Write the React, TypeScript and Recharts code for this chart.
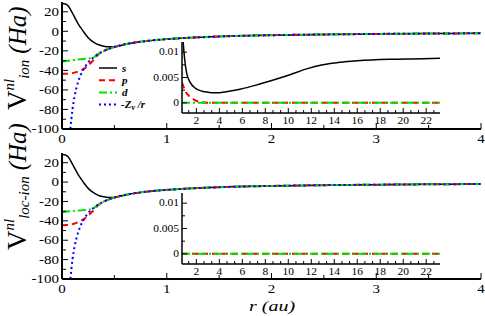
import { LineChart, Line, XAxis, YAxis, CartesianGrid } from 'recharts';

const SERIF = "'Liberation Serif', 'Times New Roman', serif";

// main panels, r in au
const R_MAIN = [0, 0.02, 0.04, 0.06, 0.08, 0.1, 0.12, 0.15, 0.18, 0.2, 0.22, 0.25, 0.3, 0.35, 0.4, 0.45, 0.5, 0.6, 0.7, 0.8, 1.0, 1.2, 1.5, 2.0, 2.5, 3.0, 3.5, 4.0];
const ZV_R = [null, null, null, null, -100, -80, -66.7, -53.3, -44.4, -40, -36.4, -32, -26.7, -22.9, -20, -17.8, -16, -13.3, -11.4, -10, -8, -6.7, -5.3, -4, -3.2, -2.7, -2.3, -2];
const S_ION = [28.5, 28.3, 27.6, 25.8, 22.5, 18.5, 14.5, 8.5, 3.5, 0.5, -2.5, -6.5, -11, -13.8, -15.2, -15.8, -15.9, -13.3, -11.4, -10, -8, -6.7, -5.3, -4, -3.2, -2.7, -2.3, -2];
const P_ION = [-43.5, -43.5, -43.5, -43.4, -43.2, -42.8, -42.3, -41.3, -40, -39, -37.7, -35, -29.5, -23.5, -20, -17.8, -16, -13.3, -11.4, -10, -8, -6.7, -5.3, -4, -3.2, -2.7, -2.3, -2];
const D_ION = [-31, -30.8, -30.5, -30.2, -29.9, -29.6, -29.3, -28.9, -28.6, -28.4, -28.2, -27.8, -26.8, -22.9, -20, -17.8, -16, -13.3, -11.4, -10, -8, -6.7, -5.3, -4, -3.2, -2.7, -2.3, -2];
const S_LOC = [28.5, 28.3, 27.6, 25.8, 22.5, 18.5, 14.5, 8.5, 3.5, 0.5, -2.5, -6.5, -11, -13.8, -15.2, -15.8, -15.9, -13.3, -11.4, -10, -8, -6.7, -5.3, -4, -3.2, -2.7, -2.3, -2];
const P_LOC = [-44.5, -44.5, -44.4, -44.2, -43.9, -43.4, -42.8, -41.5, -40, -38.8, -37.3, -34.5, -29.3, -23.5, -20, -17.8, -16, -13.3, -11.4, -10, -8, -6.7, -5.3, -4, -3.2, -2.7, -2.3, -2];
const D_LOC = [-31, -30.8, -30.5, -30.2, -30, -29.8, -29.6, -29.4, -29.2, -29, -28.8, -28.4, -27, -22.9, -20, -17.8, -16, -13.3, -11.4, -10, -8, -6.7, -5.3, -4, -3.2, -2.7, -2.3, -2];

// insets (zoom on the tail)
const R_INSET = [0.75, 0.86, 1.0, 1.15, 1.45, 1.9, 2.5, 3.0, 3.5, 4.0, 4.6, 5.8, 7.2, 8.7, 10.2, 11.6, 13.0, 14.5, 16.0, 18.8, 21.7, 23.2];
const S_INSET = [0.015, 0.0117, 0.0082, 0.0059, 0.0041, 0.0029, 0.0023, 0.0021, 0.002, 0.002, 0.0022, 0.0027, 0.0035, 0.0045, 0.0056, 0.0067, 0.0075, 0.008, 0.0083, 0.0086, 0.0087, 0.0088];
const P_INSET = [0.004, 0.0033, 0.0025, 0.0019, 0.0012, 0.0005, 0.0001, 0, 0, 0, 0, 0, 0, 0, 0, 0, 0, 0, 0, 0, 0, 0];
const D_INSET = [0, 0, 0, 0, 0, 0, 0, 0, 0, 0, 0, 0, 0, 0, 0, 0, 0, 0, 0, 0, 0, 0];
const R_LOC_INSET = [0.75, 23.2];
const P_LOC_INSET = [0, 0];
const D_LOC_INSET = [0, 0];

const MAIN_X_TICKS = [0, 0.5, 1, 1.5, 2, 2.5, 3, 3.5, 4];
const MAIN_Y_TICKS = [-100, -90, -80, -70, -60, -50, -40, -30, -20, -10, 0, 10, 20];
const INSET_X_LABELS = [2, 4, 6, 8, 10, 12, 14, 16, 18, 20, 22];
const INSET_Y_TICKS = [0, 0.0025, 0.005, 0.0075, 0.01];
const INSET_Y_LABELS = [0, 0.005, 0.01];

const INSET_X_TICKS = INSET_X_LABELS.flatMap((v) => [v - 2 / 3, v, v + 2 / 3]);

const mainRows = (s: number[], p: number[], d: number[]) =>
  R_MAIN.map((r, i) => ({ r, s: s[i], p: p[i], d: d[i], z: ZV_R[i] }));
const ionRows = mainRows(S_ION, P_ION, D_ION);
const locRows = mainRows(S_LOC, P_LOC, D_LOC);
const ionInsetRows = R_INSET.map((r, i) => ({ r, s: S_INSET[i], p: P_INSET[i], d: D_INSET[i] }));
const locInsetRows = R_LOC_INSET.map((r, i) => ({ r, p: P_LOC_INSET[i], d: D_LOC_INSET[i] }));

const STYLE = {
  s: { stroke: '#000', strokeWidth: 1.5 },
  p: { stroke: '#ff0000', strokeWidth: 2, strokeDasharray: '6 4' },
  d: { stroke: '#00e000', strokeWidth: 2, strokeDasharray: '8 3 2 3' },
  z: { stroke: '#0000ff', strokeWidth: 2, strokeDasharray: '2 3' },
};

type Side = 'bottom' | 'top' | 'left' | 'right';
type TickOpts = {
  major: (v: number) => boolean;
  label?: (v: number) => string | null;
  big: number;
  small: number;
  fontSize: number;
};

// xmgrace style: ticks point inward, labels outside
function tickFn(side: Side, o: TickOpts) {
  return (props: any) => {
    const { x, y, payload } = props;
    const v = payload.value as number;
    const len = o.major(v) ? o.big : o.small;
    let x2 = x, y2 = y;
    if (side === 'bottom') y2 = y - len;
    if (side === 'top') y2 = y + len;
    if (side === 'left') x2 = x + len;
    if (side === 'right') x2 = x - len;
    const text = o.label ? o.label(v) : null;
    let tx = x, ty = y, anchor: 'middle' | 'end' = 'middle';
    if (side === 'bottom') ty = y + o.fontSize * 0.92;
    if (side === 'left') {
      tx = x - 3;
      ty = y + o.fontSize * 0.28;
      anchor = 'end';
    }
    return (
      <g>
        <line x1={x} y1={y} x2={x2} y2={y2} stroke="#000" strokeWidth={1} />
        {text !== null && (
          <text transform={`translate(${tx},${ty}) scale(1,0.82)`} textAnchor={anchor} fontFamily={SERIF} fontSize={o.fontSize} fill="#000">
            {text}
          </text>
        )}
      </g>
    );
  };
}

const mainX: TickOpts = { major: (v) => Number.isInteger(v), big: 6, small: 4, fontSize: 15 };
const mainY: TickOpts = { major: (v) => v % 20 === 0, big: 6, small: 4, fontSize: 15 };
const insetX: TickOpts = { major: (v) => INSET_X_LABELS.includes(v), big: 5, small: 3, fontSize: 11.5 };
const insetY: TickOpts = { major: (v) => INSET_Y_LABELS.includes(v), big: 5, small: 3, fontSize: 11.5 };
const withLabels = (o: TickOpts): TickOpts => ({ ...o, label: (v) => (o.major(v) ? String(v) : null) });

const frame = { stroke: '#000', strokeWidth: 2 };
const insetFrame = { stroke: '#000', strokeWidth: 1.5 };

function MainPanel({ rows, height, xHeight }: { rows: any[]; height: number; xHeight: number }) {
  return (
    <LineChart width={485} height={height} data={rows} margin={{ top: 2, right: 4, bottom: 0, left: 0 }}>
      <XAxis dataKey="r" type="number" domain={[0, 4]} ticks={MAIN_X_TICKS} interval={0} height={xHeight}
        allowDataOverflow tickSize={0} tickMargin={0} tickLine={false} axisLine={frame} tick={tickFn('bottom', withLabels(mainX))} />
      <XAxis xAxisId="top" orientation="top" dataKey="r" type="number" domain={[0, 4]} ticks={MAIN_X_TICKS} interval={0} height={0}
        tickSize={0} tickMargin={0} tickLine={false} axisLine={frame} tick={tickFn('top', mainX)} />
      <YAxis type="number" domain={[-100, 30]} ticks={MAIN_Y_TICKS} interval={0} width={62} allowDataOverflow
        tickSize={0} tickMargin={0} tickLine={false} axisLine={frame} tick={tickFn('left', withLabels(mainY))} />
      <YAxis yAxisId="right" orientation="right" type="number" domain={[-100, 30]} ticks={MAIN_Y_TICKS} interval={0} width={0}
        tickSize={0} tickMargin={0} tickLine={false} axisLine={frame} tick={tickFn('right', mainY)} />
      <Line type="monotone" dataKey="s" {...STYLE.s} dot={false} isAnimationActive={false} />
      <Line type="monotone" dataKey="p" {...STYLE.p} dot={false} isAnimationActive={false} />
      <Line type="monotone" dataKey="d" {...STYLE.d} dot={false} isAnimationActive={false} />
      <Line type="monotone" dataKey="z" {...STYLE.z} dot={false} isAnimationActive={false} />
    </LineChart>
  );
}

function InsetPanel({ rows, withS }: { rows: any[]; withS: boolean }) {
  return (
    <LineChart width={300} height={90} data={rows} margin={{ top: 4, right: 0, bottom: 0, left: 0 }}>
      <CartesianGrid horizontal={false} vertical={false} fill="#fff" fillOpacity={1} />
      <XAxis dataKey="r" type="number" domain={[0.75, 23.2]} ticks={INSET_X_TICKS} interval={0} height={15}
        allowDataOverflow tickSize={0} tickMargin={0} tickLine={false} axisLine={insetFrame} tick={tickFn('bottom', withLabels(insetX))} />
      <XAxis xAxisId="top" orientation="top" dataKey="r" type="number" domain={[0.75, 23.2]} ticks={INSET_X_TICKS} interval={0} height={0}
        tickSize={0} tickMargin={0} tickLine={false} axisLine={insetFrame} tick={tickFn('top', insetX)} />
      <YAxis type="number" domain={[-0.002, 0.012]} ticks={INSET_Y_TICKS} interval={0} width={42} allowDataOverflow
        tickSize={0} tickMargin={0} tickLine={false} axisLine={insetFrame} tick={tickFn('left', withLabels(insetY))} />
      <YAxis yAxisId="right" orientation="right" type="number" domain={[-0.002, 0.012]} ticks={INSET_Y_TICKS} interval={0} width={0}
        tickSize={0} tickMargin={0} tickLine={false} axisLine={insetFrame} tick={tickFn('right', insetY)} />
      {withS && <Line type="monotone" dataKey="s" {...STYLE.s} dot={false} isAnimationActive={false} />}
      <Line type="monotone" dataKey="p" {...STYLE.p} dot={false} isAnimationActive={false} />
      <Line type="monotone" dataKey="d" {...STYLE.d} dot={false} isAnimationActive={false} />
    </LineChart>
  );
}

function YTitle({ startY, sub }: { startY: number; sub: string }) {
  return (
    <g transform={`translate(26,${startY}) rotate(-90)`}>
      <text x={0} y={0} fontFamily={SERIF} fill="#000">
        <tspan fontSize={27}>V</tspan>
        <tspan fontSize={15} fontStyle="italic" dy={-12}>nl</tspan>
        <tspan fontSize={15} fontStyle="italic" dy={15}>{sub}</tspan>
        <tspan fontSize={25} fontStyle="italic" dy={-3} dx={6}>(Ha)</tspan>
      </text>
    </g>
  );
}

const LEGEND = [
  { key: 's', label: 's', y: 68 },
  { key: 'p', label: 'p', y: 80.2 },
  { key: 'd', label: 'd', y: 92.4 },
] as const;

function Overlay() {
  return (
    <svg width={485} height={316} style={{ position: 'absolute', left: 0, top: 0, pointerEvents: 'none' }}>
      <YTitle startY={110} sub="ion" />
      <YTitle startY={250} sub="loc-ion" />
      {LEGEND.map((l) => (
        <line key={l.key} x1={99} x2={117} y1={l.y} y2={l.y} {...STYLE[l.key]} />
      ))}
      <line x1={99} x2={117} y1={104.6} y2={104.6} {...STYLE.z} />
      <g fontFamily={SERIF} fontSize={11} fontWeight="bold" fontStyle="italic" fill="#000">
        {LEGEND.map((l) => (
          <text key={l.key} x={122} y={l.y + 3.5}>{l.label}</text>
        ))}
        <text x={121} y={108.1}>
          -Z<tspan fontSize={8} dy={2}>v</tspan>
          <tspan dy={-2}> /r</tspan>
        </text>
      </g>
      <text transform="translate(272,311) scale(1,0.78)" textAnchor="middle" fontFamily={SERIF} fontSize={20} fontStyle="italic" fill="#000">
        r (au)
      </text>
    </svg>
  );
}

export default function App() {
  return (
    <div style={{ position: 'absolute', left: 0, top: 0, width: 485, height: 316, background: '#fff' }}>
      <div style={{ position: 'absolute', left: 0, top: 0 }}>
        <MainPanel rows={ionRows} height={150} xHeight={21} />
      </div>
      <div style={{ position: 'absolute', left: 0, top: 151 }}>
        <MainPanel rows={locRows} height={165} xHeight={37} />
      </div>
      <div style={{ position: 'absolute', left: 140, top: 38 }}>
        <InsetPanel rows={ionInsetRows} withS />
      </div>
      <div style={{ position: 'absolute', left: 140, top: 189 }}>
        <InsetPanel rows={locInsetRows} withS={false} />
      </div>
      <Overlay />
    </div>
  );
}
